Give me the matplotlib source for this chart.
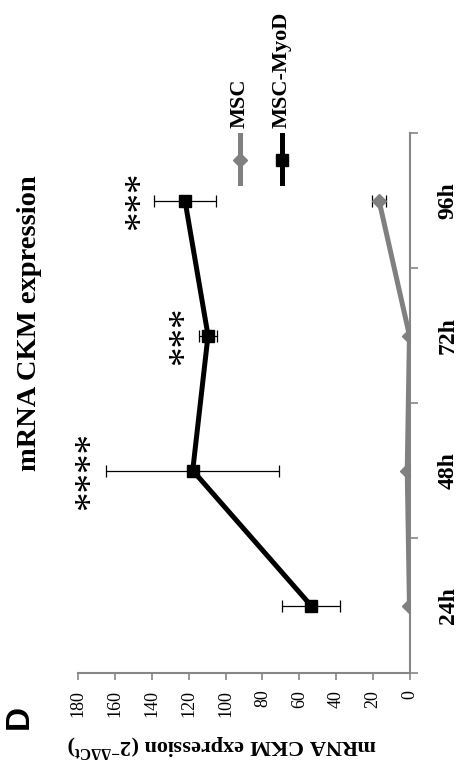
import matplotlib
matplotlib.use('Agg')
import matplotlib.pyplot as plt
from matplotlib.lines import Line2D
import numpy as np

# 数据
times = ['24h', '48h', '72h', '96h']
msc = [0.3, 1.5, 0.3, 16.8]
msc_err = [0.5, 0.8, 0.5, 4.0]
myod = [53.7, 117.8, 109.5, 122.0]
myod_err = [15.5, 47.0, 5.0, 17.0]
stars = ['', '****', '***', '***']
star_pos = [0, 173, 122, 146]

plt.rcParams['font.family'] = ['Liberation Serif', 'DejaVu Serif']
plt.rcParams['mathtext.default'] = 'regular'

GRAY = '#868686'
LINE_GRAY = '#808080'

fig = plt.figure(figsize=(4.59, 7.61), dpi=100)
# 整张图逆时针旋转90度：数值轴水平（0在右），时间轴竖直（24h在下）
ax = fig.add_axes([78 / 459, 88 / 761, 332 / 459, 540 / 761])

pos = np.arange(1, len(times) + 1)

ax.errorbar(msc, pos, xerr=msc_err, color=LINE_GRAY, lw=3.6, marker='D', ms=7,
            ecolor='black', elinewidth=0.9, capsize=4, capthick=0.9, zorder=3)
ax.errorbar(myod, pos, xerr=myod_err, color='black', lw=3.6, marker='s', ms=9,
            ecolor='black', elinewidth=0.9, capsize=4, capthick=0.9, zorder=4)

for p, s, v in zip(pos, stars, star_pos):
    if s:
        ax.text(v, p, s, rotation=90, ha='center', va='center', fontsize=28)

ax.set_xlim(180, 0)
ax.set_ylim(0.5, 4.5)
ax.set_xticks(np.arange(0, 181, 20))
ax.tick_params(axis='x', direction='out', length=5, width=1.2, color=GRAY,
               labelsize=13, labelrotation=90, pad=7)
for lab in ax.get_xticklabels():
    lab.set_va('top')

ax.yaxis.tick_right()
ax.set_yticks(pos)
ax.set_yticklabels(times, fontweight='bold', fontsize=17, rotation=90, va='center')
ax.set_yticks(np.arange(0.5, 4.6, 1), minor=True)
ax.tick_params(axis='y', which='major', length=0, pad=20)
ax.tick_params(axis='y', which='minor', direction='out', length=6, width=1.2, color=GRAY)

for side in ['top', 'left']:
    ax.spines[side].set_visible(False)
for side in ['bottom', 'right']:
    ax.spines[side].set_color(GRAY)
    ax.spines[side].set_linewidth(1.5)

# 标题、纵轴标题、面板字母
fig.text(30 / 459, 1 - 323 / 761, 'mRNA CKM expression', rotation=90,
         ha='center', va='center', fontsize=20.5, fontweight='bold')
fig.text(222 / 459, 1 - 745 / 761, 'mRNA CKM expression (2$^{-ΔΔCt}$)', rotation=180,
         ha='center', va='center', fontsize=16, fontweight='bold')
fig.text(19 / 459, 1 - 717 / 761, 'D', rotation=90, ha='center', va='center',
         fontsize=24, fontweight='bold', family='Liberation Sans')

# 图例（旋转后竖排）
legend_items = [('MSC', LINE_GRAY, 'D', 7), ('MSC-MyoD', 'black', 's', 9)]
for (name, col, mk, size), lx in zip(legend_items, [240, 282]):
    fx = lx / 459
    fig.add_artist(Line2D([fx, fx], [1 - 183 / 761, 1 - 135 / 761], color=col, lw=3.6,
                          transform=fig.transFigure))
    fig.add_artist(Line2D([fx], [1 - 160 / 761], color=col, marker=mk, ms=size,
                          transform=fig.transFigure))
    fig.text(fx, 1 - 128 / 761, name, rotation=90, ha='center', va='bottom',
             fontsize=16, fontweight='bold')

fig.savefig('out.png', dpi=100)
